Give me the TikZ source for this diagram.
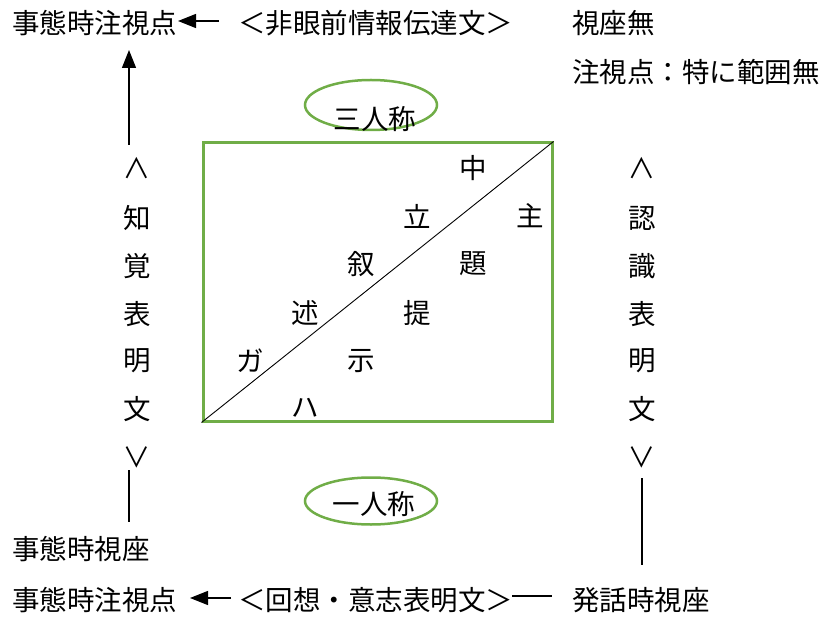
\documentclass[tikz,border=0pt]{standalone}
\usepackage{fontspec}
\setmainfont{Noto Sans CJK JP}
\usetikzlibrary{arrows.meta,shapes.geometric}
\definecolor{grn}{RGB}{112,173,71}
\begin{document}
\begin{tikzpicture}[x=1pt,y=-1pt,
  every node/.style={inner sep=0pt,font=\fontsize{27.5}{32}\selectfont},
  lbl/.style={anchor=west},
  arr/.style={-{Triangle[length=18pt,width=14pt]},line width=1.2pt},
  plain/.style={line width=1.2pt},
  oval/.style={ellipse,draw=grn,line width=2.5pt,minimum width=132pt,minimum height=50pt},
  vmark/.style={rotate=-90}]
\useasboundingbox (0,0) rectangle (824,617);
% top texts
\node[lbl] (tl) at (12,23) {事態時注視点};
\node[lbl] (tm) at (238,23) {＜非眼前情報伝達文＞};
\node[lbl] (tr1) at (572,23) {視座無};
\node[lbl] (tr2) at (572,72) {注視点：特に範囲無};
\coordinate (ta) at (219,21);
\coordinate (tt) at (178,21);
\draw[arr] (ta) -- (tt);
\coordinate (va) at (129,145);
\coordinate (vt) at (129,50);
\draw[arr] (va) -- (vt);
% ellipses
\node[oval] (e3) at (371,105) {};
\node (t3) at (375,119) {三人称};
\node[oval,minimum height=47pt] (e1) at (371,501) {};
\node (t1) at (374,504) {一人称};
% box
\node[draw=grn,line width=3pt,minimum width=349pt,minimum height=278pt] (box) at (377.5,282) {};
\draw[line width=0.9pt] (box.south west) -- (box.north east);
\node (c1) at (473,168) {中};
\node (c2) at (417,216) {立};
\node (c3) at (530,216) {主};
\node (c4) at (361,264) {叙};
\node (c5) at (473,264) {題};
\node (c6) at (305,313) {述};
\node (c7) at (417,313) {提};
\node (c8) at (250,361) {ガ};
\node (c9) at (361,361) {示};
\node (c10) at (305,408) {ハ};
% left column
\node[vmark] (l0) at (137,168) {＜};
\node (l1) at (137,218) {知};
\node (l2) at (137,266) {覚};
\node (l3) at (137,314) {表};
\node (l4) at (137,361) {明};
\node (l5) at (137,409) {文};
\node[vmark] (l6) at (137,457) {＞};
% right column
\node[vmark] (r0) at (642,168) {＜};
\node (r1) at (642,218) {認};
\node (r2) at (642,266) {識};
\node (r3) at (642,314) {表};
\node (r4) at (642,361) {明};
\node (r5) at (642,409) {文};
\node[vmark] (r6) at (642,457) {＞};
% lines below columns
\coordinate (lla) at (129,470);
\coordinate (llb) at (129,522);
\draw[plain] (lla) -- (llb);
\coordinate (rla) at (642,478);
\coordinate (rlb) at (642,565);
\draw[plain] (rla) -- (rlb);
% bottom texts
\node[lbl] (bl1) at (12,549) {事態時視座};
\node[lbl] (bl2) at (12,600) {事態時注視点};
\node[lbl] (bm) at (238,600) {＜回想・意志表明文＞};
\node[lbl] (br) at (572,600) {発話時視座};
\coordinate (ba) at (231,598);
\coordinate (bt) at (190,598);
\draw[arr] (ba) -- (bt);
\coordinate (bda) at (512,596);
\coordinate (bdb) at (552,596);
\draw[plain] (bda) -- (bdb);
\end{tikzpicture}
\end{document}
